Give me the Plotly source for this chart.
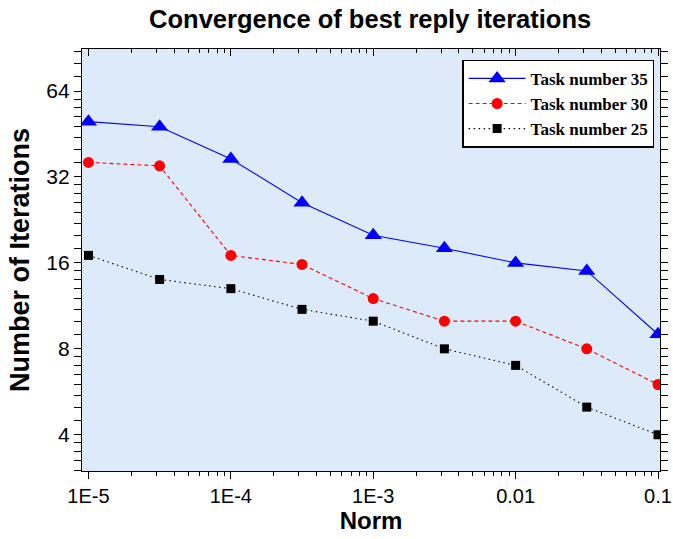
import numpy as np
import plotly.graph_objects as go

norm = [1e-5, 3.16e-5, 1e-4, 3.16e-4, 1e-3, 3.16e-3, 1e-2, 3.16e-2, 1e-1]
task35 = [50, 48, 37, 26, 20, 18, 16, 15, 9]
task30 = [36, 35, 17, 15.8, 12, 10, 10, 8, 6]
task25 = [17, 14, 13, 11, 10, 8, 7, 5, 4]

x_tickvals = [1e-5, 1e-4, 1e-3, 1e-2, 1e-1]
x_ticktext = ["1E-5", "1E-4", "1E-3", "0.01", "0.1"]
y_tickvals = [4, 8, 16, 32, 64]
y_ticktext = ["4", "8", "16", "32", "64"]

x_minor = [m * 10.0 ** e for e in range(-5, -1) for m in range(2, 10)]
y_minor = ([3 + 0.25 * k for k in range(0, 4)] + [4 + 0.5 * k for k in range(1, 8)]
           + [8 + 1 * k for k in range(1, 8)] + [16 + 2 * k for k in range(1, 8)]
           + [32 + 4 * k for k in range(1, 8)] + [64 + 8 * k for k in range(1, 4)])

fig = go.Figure()
fig.add_trace(go.Scatter(x=norm, y=task35, name="<b>Task number 35</b>", mode="lines+markers",
                         legendgroup="a",
                         line=dict(color="#0000FF", width=1.1),
                         marker=dict(symbol="triangle-up", size=15, color="#0000FF")))
fig.add_trace(go.Scatter(x=norm, y=task30, name="<b>Task number 30</b>", mode="lines+markers",
                         legendgroup="b",
                         line=dict(color="#FF0000", width=1.1, dash="4px,3px"),
                         marker=dict(symbol="circle", size=11, color="#FF0000")))
fig.add_trace(go.Scatter(x=norm, y=task25, name="<b>Task number 25</b>", mode="lines+markers",
                         legendgroup="c",
                         line=dict(color="#000000", width=1.1, dash="1.5px,3.5px"),
                         marker=dict(symbol="square", size=9, color="#000000")))

xr = [-5.0455, -0.986]
yr = [0.4751, 1.9535]

fig.update_layout(
    width=673, height=539,
    margin=dict(l=82, r=13, t=49, b=68, autoexpand=False),
    paper_bgcolor="white",
    plot_bgcolor="#DDEAF9",
    font=dict(family="Liberation Sans, Arial", color="black"),
    title=dict(text="<b>Convergence of best reply iterations</b>", x=0.55, xanchor="center",
               y=0.965, yanchor="middle", font=dict(size=25.5, family="Liberation Sans, Arial")),
    showlegend=True,
    legend=dict(x=0.658, y=0.975, xanchor="left", yanchor="top",
                bgcolor="white", bordercolor="black", borderwidth=1.3,
                font=dict(family="Liberation Serif, Times New Roman", size=17, color="black"),
                itemwidth=57, tracegroupgap=0),
    xaxis=dict(type="log", range=xr, tickmode="array", tickvals=x_tickvals, ticktext=x_ticktext,
               ticks="outside", ticklen=7, tickwidth=1.3, tickcolor="black",
               showline=True, linecolor="black", linewidth=1.3, mirror=True,
               showgrid=False, zeroline=False, automargin=False, ticklabeloverflow="allow",
               tickfont=dict(size=20),
               minor=dict(tickmode="array", tickvals=x_minor, ticks="outside", ticklen=4,
                          tickwidth=1.2, tickcolor="black", showgrid=False),
               title=dict(text="<b>Norm</b>", font=dict(size=24), standoff=6)),
    xaxis2=dict(type="log", range=xr, overlaying="x", side="top", tickmode="array",
                tickvals=x_tickvals, ticks="inside", ticklen=7, tickwidth=1.3, tickcolor="black",
                showticklabels=False, showgrid=False, zeroline=False, showline=False,
                automargin=False,
                minor=dict(tickmode="array", tickvals=x_minor, ticks="inside", ticklen=4,
                           tickwidth=1.2, tickcolor="black", showgrid=False)),
    yaxis=dict(type="log", range=yr, tickmode="array", tickvals=y_tickvals, ticktext=y_ticktext,
               ticks="outside", ticklen=7, tickwidth=1.3, tickcolor="black",
               showline=True, linecolor="black", linewidth=1.3, mirror="allticks",
               showgrid=False, zeroline=False, automargin=False, ticklabeloverflow="allow",
               tickfont=dict(size=21),
               minor=dict(tickmode="array", tickvals=y_minor, ticks="outside", ticklen=4,
                          tickwidth=1.2, tickcolor="black", showgrid=False),
               title=dict(text="<b>Number of Iterations</b>", font=dict(size=27), standoff=8)),
)
fig.add_trace(go.Scatter(x=[norm[0]], y=[task25[0]], xaxis="x2", mode="markers",
                         marker=dict(opacity=0), showlegend=False, hoverinfo="skip"))

fig.write_html("out.html")
